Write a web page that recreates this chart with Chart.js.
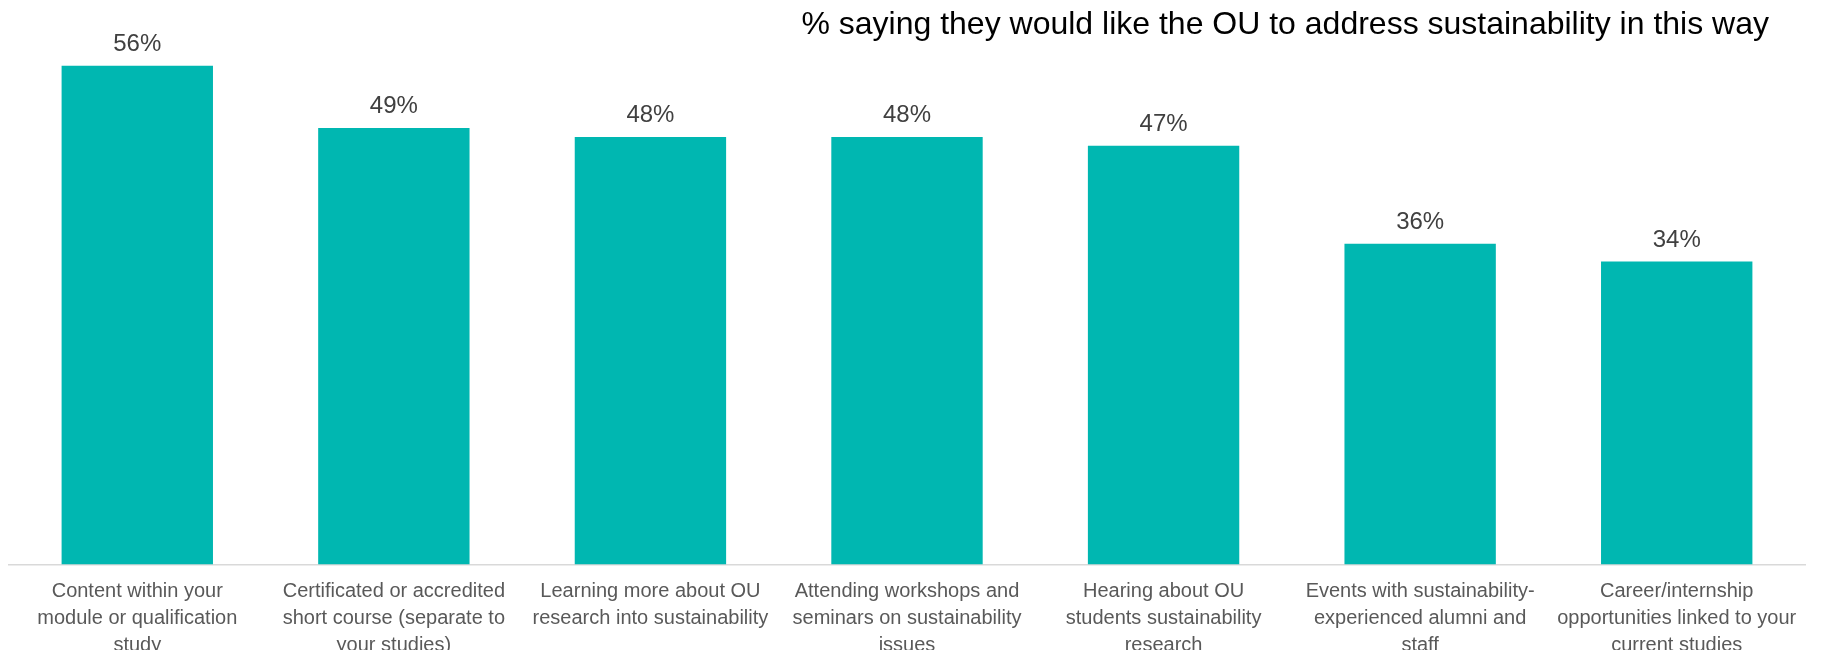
<!DOCTYPE html>
<html>
<head>
    <title>OU sustainability</title>
    <style>
        body {
            margin: 0;
            background-color: white;
        }

        #chart-box {
            width: 1825px;
            height: 650px;
        }
    </style>
    <script src="https://cdn.jsdelivr.net/npm/chart.js"></script>
</head>
<body>
    <div id="chart-box">
        <canvas id="ou-chart"></canvas>
    </div>

    <script>
        const chartTitle = '% saying they would like the OU to address sustainability in this way';

        const categories = [
            ['Content within your', 'module or qualification', 'study'],
            ['Certificated or accredited', 'short course (separate to', 'your studies)'],
            ['Learning more about OU', 'research into sustainability'],
            ['Attending workshops and', 'seminars on sustainability', 'issues'],
            ['Hearing about OU', 'students sustainability', 'research'],
            ['Events with sustainability-', 'experienced alumni and', 'staff'],
            ['Career/internship', 'opportunities linked to your', 'current studies']
        ];

        const percentages = [56, 49, 48, 48, 47, 36, 34];

        const fontFamily = '"Liberation Sans", Arial, sans-serif';

        // Percent labels above each bar
        const valueLabels = {
            id: 'valueLabels',
            afterDatasetsDraw(chart) {
                const ctx = chart.ctx;
                const meta = chart.getDatasetMeta(0);
                ctx.save();
                ctx.font = '24px ' + fontFamily;
                ctx.fillStyle = '#404040';
                ctx.textAlign = 'center';
                ctx.textBaseline = 'alphabetic';
                meta.data.forEach((bar, i) => {
                    ctx.fillText(percentages[i] + '%', bar.x, bar.y - 15);
                });
                ctx.restore();
            }
        };

        // Title sits at the top right, over the plot area
        const cornerTitle = {
            id: 'cornerTitle',
            afterDraw(chart) {
                const ctx = chart.ctx;
                ctx.save();
                ctx.font = '32px ' + fontFamily;
                ctx.fillStyle = '#000000';
                ctx.textAlign = 'right';
                ctx.textBaseline = 'middle';
                ctx.fillText(chartTitle, 1769, 25);
                ctx.restore();
            }
        };

        const ctx = document.getElementById('ou-chart').getContext('2d');
        const myChart = new Chart(ctx, {
            type: 'bar',
            data: {
                labels: categories,
                datasets: [{
                    data: percentages,
                    backgroundColor: '#00B7B1',
                    borderWidth: 0,
                    categoryPercentage: 1.0,
                    barPercentage: 0.59
                }]
            },
            options: {
                responsive: true,
                maintainAspectRatio: false,
                animation: false,
                layout: {
                    padding: { top: 30, right: 20, left: 9, bottom: 0 }
                },
                plugins: {
                    legend: { display: false },
                    title: { display: false },
                    tooltip: { enabled: false }
                },
                scales: {
                    x: {
                        grid: { display: false },
                        border: { display: true, color: '#D9D9D9', width: 1.5 },
                        ticks: {
                            color: '#595959',
                            padding: 6,
                            maxRotation: 0,
                            autoSkip: false,
                            font: { family: fontFamily, size: 20, lineHeight: 1.34 }
                        },
                        afterFit(scale) {
                            scale.height = 85.5;
                        }
                    },
                    y: {
                        display: false,
                        min: 0,
                        max: 60
                    }
                }
            },
            plugins: [valueLabels, cornerTitle]
        });
    </script>
</body>
</html>
